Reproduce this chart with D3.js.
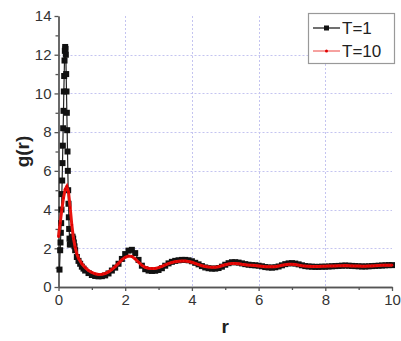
<!DOCTYPE html>
<html><head><meta charset="utf-8">
<script src="https://cdn.jsdelivr.net/npm/d3@7"></script>
<style>body{margin:0;background:#fff}svg{display:block}</style>
</head><body><svg id="c" width="401" height="341"></svg>
<script>
const seriesNames = ["T=1", "T=10"];
const xTicks = [0, 2, 4, 6, 8, 10];
const yTicks = [0, 2, 4, 6, 8, 10, 12, 14];
// T=1 : [r, g(r)]
const t1 = [
[0.03,0.9],[0.05,1.9],[0.06,2.3],[0.07,2.8],[0.08,3.3],[0.09,4.0],[0.10,4.8],[0.11,5.5],[0.12,6.4],[0.13,7.3],[0.14,8.2],[0.15,9.1],[0.16,10.1],[0.17,10.9],[0.18,11.7],[0.19,12.2],[0.20,12.4],
[0.21,12.3],[0.22,12.0],[0.23,11.0],[0.24,10.1],[0.25,9.0],[0.26,8.1],[0.27,7.0],[0.28,6.0],[0.29,5.0],[0.30,4.3],[0.31,3.6],[0.32,3.0],[0.33,2.5],[0.34,2.2],[0.36,2.2],[0.38,2.4],[0.40,2.5],[0.42,2.6],[0.44,2.5],[0.46,2.3],[0.48,2.1],[0.50,1.9],[0.55,1.55],[0.6,1.35],[0.65,1.2],
[0.7,1.05],[0.75,0.95],[0.8,0.85],[0.9,0.72],[1.0,0.62],[1.1,0.57],[1.2,0.55],[1.3,0.56],[1.4,0.6],[1.5,0.7],[1.6,0.85],[1.7,1.0],[1.8,1.2],[1.9,1.45],[2.0,1.7],[2.1,1.88],[2.2,1.92],[2.3,1.75],[2.4,1.4],[2.5,1.1],[2.6,0.92],[2.7,0.85],[2.8,0.83],[2.9,0.84],[3.0,0.88],
[3.1,0.97],[3.2,1.1],[3.3,1.22],[3.4,1.3],[3.5,1.35],[3.6,1.38],[3.7,1.4],[3.8,1.4],[3.9,1.38],[4.0,1.33],[4.1,1.25],[4.2,1.17],[4.3,1.08],[4.4,1.01],[4.5,0.97],[4.6,0.95],[4.7,0.95],[4.8,0.98],[4.9,1.05],[5.0,1.15],
[5.1,1.23],[5.2,1.28],[5.3,1.28],[5.4,1.26],[5.5,1.22],[5.6,1.18],[5.7,1.15],[5.8,1.13],[5.9,1.12],[6.0,1.1],[6.1,1.07],[6.2,1.03],[6.3,1.01],[6.4,1.0],[6.5,1.02],[6.6,1.06],[6.7,1.12],[6.8,1.18],[6.9,1.22],[7.0,1.23],
[7.1,1.21],[7.2,1.17],[7.3,1.12],[7.4,1.08],[7.5,1.06],[7.6,1.05],[7.7,1.04],[7.8,1.04],[7.9,1.05],[8.0,1.05],[8.1,1.06],[8.2,1.07],[8.3,1.08],[8.4,1.09],[8.5,1.1],[8.6,1.11],[8.7,1.1],[8.8,1.09],[8.9,1.08],[9.0,1.07],
[9.1,1.06],[9.2,1.06],[9.3,1.07],[9.4,1.08],[9.5,1.09],[9.6,1.1],[9.7,1.11],[9.8,1.12],[9.9,1.13],[10.0,1.13]
];
// T=10 : [r, g(r)]
const t10 = [
[0.0,2.6],[0.05,3.3],[0.1,4.0],[0.15,4.6],[0.2,5.05],[0.25,5.2],[0.3,4.9],[0.35,4.1],[0.4,3.2],[0.45,2.5],[0.5,2.05],[0.55,1.72],[0.6,1.48],[0.7,1.2],[0.8,1.0],[0.9,0.85],[1.0,0.75],
[1.1,0.68],[1.2,0.65],[1.3,0.66],[1.4,0.7],[1.5,0.78],[1.6,0.9],[1.7,1.05],[1.8,1.22],[1.9,1.4],[2.0,1.53],[2.1,1.6],[2.2,1.58],[2.3,1.45],[2.4,1.28],[2.5,1.12],[2.6,1.02],[2.7,0.97],[2.8,0.95],[2.9,0.96],[3.0,1.0],
[3.1,1.06],[3.2,1.14],[3.3,1.21],[3.4,1.27],[3.5,1.31],[3.6,1.33],[3.7,1.34],[3.8,1.34],[3.9,1.32],[4.0,1.28],[4.1,1.22],[4.2,1.16],[4.3,1.1],[4.4,1.06],[4.5,1.03],[4.6,1.02],[4.7,1.02],[4.8,1.05],[4.9,1.1],[5.0,1.15],
[5.1,1.19],[5.2,1.21],[5.3,1.21],[5.4,1.2],[5.5,1.17],[5.6,1.15],[5.7,1.13],[5.8,1.12],[5.9,1.11],[6.0,1.09],[6.1,1.07],[6.2,1.05],[6.3,1.04],[6.4,1.04],[6.5,1.05],[6.6,1.08],[6.7,1.12],[6.8,1.15],[6.9,1.17],[7.0,1.17],
[7.1,1.16],[7.2,1.13],[7.3,1.1],[7.4,1.08],[7.5,1.07],[7.6,1.06],[7.7,1.06],[7.8,1.06],[7.9,1.07],[8.0,1.07],[8.1,1.08],[8.2,1.08],[8.3,1.09],[8.4,1.1],[8.5,1.1],[8.6,1.11],[8.7,1.1],[8.8,1.09],[8.9,1.08],[9.0,1.08],
[9.1,1.07],[9.2,1.07],[9.3,1.08],[9.4,1.09],[9.5,1.1],[9.6,1.11],[9.7,1.12],[9.8,1.13],[9.9,1.13],[10.0,1.13]
];

const svg = d3.select("#c");
const L = 58.5, R = 392, T = 16, B = 287;
const x = d3.scaleLinear().domain([0, 10]).range([L, R]);
const y = d3.scaleLinear().domain([0, 14]).range([B, T]);
const font = "'Liberation Sans', Arial, sans-serif";
const axisCol = "#555";

// grid
const grid = svg.append("g").attr("stroke", "#c4c4f0").attr("stroke-width", 1).attr("stroke-dasharray", "2,2");
grid.selectAll(".gx").data(xTicks.filter(d => d > 0 && d < 10)).join("line")
  .attr("x1", d => Math.round(x(d)) + 0.5).attr("x2", d => Math.round(x(d)) + 0.5).attr("y1", T).attr("y2", B);
grid.selectAll(".gy").data(yTicks.filter(d => d > 0 && d < 14)).join("line")
  .attr("y1", d => Math.round(y(d)) + 0.5).attr("y2", d => Math.round(y(d)) + 0.5).attr("x1", L).attr("x2", R);

// axes
const xAxis = d3.axisBottom(x).tickValues(xTicks).tickSize(4).tickSizeOuter(0).tickPadding(3);
const xMinor = d3.axisBottom(x).tickValues([1,3,5,7,9]).tickSize(3).tickSizeOuter(0).tickFormat("");
const yAxis = d3.axisLeft(y).tickValues(yTicks).tickSize(4).tickSizeOuter(0).tickPadding(3);
const yMinor = d3.axisLeft(y).tickValues([1,3,5,7,9,11,13]).tickSize(3).tickSizeOuter(0).tickFormat("");

function style(g) {
  g.selectAll("path,line").attr("stroke", axisCol).attr("stroke-width", 1.3);
  g.selectAll("text").attr("fill", "#333").style("font-family", font).style("font-size", "15px");
}
svg.append("g").attr("transform", `translate(0,${B})`).call(xMinor).call(style);
svg.append("g").attr("transform", `translate(0,${B})`).call(xAxis).call(style);
svg.append("g").attr("transform", `translate(${L},0)`).call(yMinor).call(style);
svg.append("g").attr("transform", `translate(${L},0)`).call(yAxis).call(style);

// series
const line = d3.line().x(d => x(d[0])).y(d => y(d[1]));
svg.append("path").datum(t1).attr("d", line).attr("fill", "none").attr("stroke", "#222").attr("stroke-width", 1.2);
svg.append("g").selectAll("rect").data(t1).join("rect")
  .attr("x", d => x(d[0]) - 3).attr("y", d => y(d[1]) - 3).attr("width", 6).attr("height", 6).attr("fill", "#111");
svg.append("path").datum(t10).attr("d", line).attr("fill", "none").attr("stroke", "#e8140f").attr("stroke-width", 3);
svg.append("g").selectAll("circle").data(t10).join("circle")
  .attr("cx", d => x(d[0])).attr("cy", d => y(d[1])).attr("r", 1.3).attr("fill", "#e00000");

// axis titles
svg.append("text").attr("x", x(5)).attr("y", 333).attr("text-anchor", "middle")
  .style("font-family", font).style("font-weight", "bold").style("font-size", "19px").attr("fill", "#222").text("r");
svg.append("text").attr("transform", `translate(29,${y(7)}) rotate(-90)`).attr("text-anchor", "middle")
  .style("font-family", font).style("font-weight", "bold").style("font-size", "19px").attr("fill", "#222").text("g(r)");

// legend
const lg = svg.append("g");
lg.append("rect").attr("x", 308.5).attr("y", 13.5).attr("width", 86).attr("height", 50)
  .attr("fill", "#fff").attr("stroke", "#999").attr("stroke-width", 1.2);
const items = [{name: seriesNames[0], col: "#111", mk: "sq", yy: 28}, {name: seriesNames[1], col: "#e8140f", mk: "dot", yy: 51}];
items.forEach(it => {
  lg.append("line").attr("x1", 313).attr("x2", 340).attr("y1", it.yy).attr("y2", it.yy)
    .attr("stroke", it.col).attr("stroke-width", it.mk === "sq" ? 1.2 : 0.8);
  if (it.mk === "sq") lg.append("rect").attr("x", 324).attr("y", it.yy - 2.5).attr("width", 5).attr("height", 5).attr("fill", it.col);
  else lg.append("circle").attr("cx", 326.5).attr("cy", it.yy).attr("r", 1.5).attr("fill", "#e00000");
  lg.append("text").attr("x", 342).attr("y", it.yy + 6).style("font-family", font).style("font-size", "17px")
    .attr("fill", "#222").text(it.name);
});
</script></body></html>
